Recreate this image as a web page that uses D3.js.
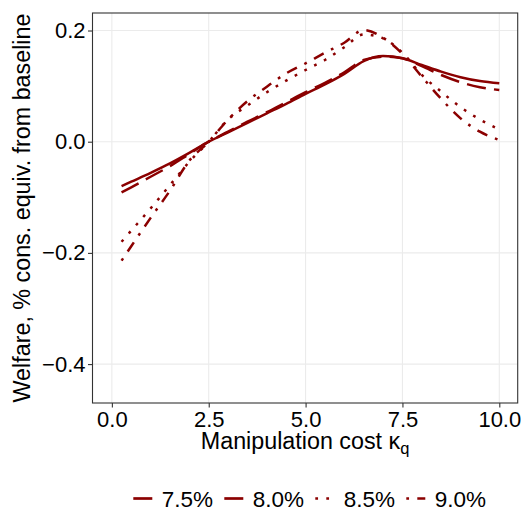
<!DOCTYPE html>
<html>
<head>
<meta charset="utf-8">
<script src="https://cdn.jsdelivr.net/npm/d3@7"></script>
<style>
  html, body { margin: 0; padding: 0; background: #fff; }
  svg { display: block; font-family: "Liberation Sans", Arial, sans-serif; }
</style>
</head>
<body>
<svg id="chart" width="526" height="509"></svg>
<script>
// ---- data ----
const kappa = [0.25, 0.5, 1.0, 1.5, 2.0, 2.5, 3.0, 3.5, 4.0, 4.5, 5.0, 5.5, 6.0, 6.5, 7.0, 7.5, 8.0, 8.5, 9.0, 9.5, 10.0];
const seriesNames = ["7.5%", "8.0%", "8.5%", "9.0%"];
const welfare75 = [-0.080, -0.072, -0.056, -0.039, -0.020, 0.000, 0.017, 0.034, 0.051, 0.068, 0.086, 0.103, 0.122, 0.145, 0.154, 0.150, 0.138, 0.126, 0.116, 0.109, 0.105];
const welfare80 = [-0.091, -0.082, -0.063, -0.044, -0.022, 0.000, 0.018, 0.036, 0.053, 0.071, 0.089, 0.106, 0.125, 0.147, 0.153, 0.150, 0.136, 0.120, 0.107, 0.098, 0.093];
const welfare85 = [-0.180, -0.160, -0.120, -0.078, -0.036, 0.000, 0.040, 0.065, 0.089, 0.110, 0.129, 0.147, 0.170, 0.193, 0.186, 0.160, 0.120, 0.090, 0.062, 0.040, 0.022];
const welfare90 = [-0.214, -0.188, -0.137, -0.088, -0.034, 0.000, 0.040, 0.073, 0.099, 0.123, 0.141, 0.160, 0.178, 0.201, 0.187, 0.158, 0.117, 0.077, 0.042, 0.018, 0.003];
const xTicks = [0, 2.5, 5, 7.5, 10];
const xTickLabels = ["0.0", "2.5", "5.0", "7.5", "10.0"];
const yTicks = [0.2, 0.0, -0.2, -0.4];
const yTickLabels = ["0.2", "0.0", "\u22120.2", "\u22120.4"];

// ---- styles ----
const color = "#8b0000";
const u = 2.75;
const dashes = ["none", `${7*u} ${3*u}`, `${1*u} ${3*u}`, `${1*u} ${3*u} ${4*u} ${3*u}`];
const allSeries = [welfare75, welfare80, welfare85, welfare90];

const svg = d3.select("#chart");
const panel = { left: 92.5, right: 517.7, top: 13, bottom: 403 };

const x = d3.scaleLinear().domain([-0.5, 10.475]).range([panel.left, panel.right]);
const y = d3.scaleLinear().domain([-0.47, 0.2315]).range([panel.bottom, panel.top]);

// grid
const g = svg.append("g");
g.selectAll(".vg").data(xTicks).join("line")
  .attr("x1", d => x(d)).attr("x2", d => x(d))
  .attr("y1", panel.top).attr("y2", panel.bottom)
  .attr("stroke", "#ebebeb").attr("stroke-width", 1.1);
g.selectAll(".hg").data(yTicks).join("line")
  .attr("y1", d => y(d)).attr("y2", d => y(d))
  .attr("x1", panel.left).attr("x2", panel.right)
  .attr("stroke", "#ebebeb").attr("stroke-width", 1.1);

// axes
const xAxis = d3.axisBottom(x).tickValues(xTicks).tickFormat((d, i) => xTickLabels[i]).tickSize(4.5).tickPadding(4);
const yAxis = d3.axisLeft(y).tickValues(yTicks).tickFormat((d, i) => yTickLabels[i]).tickSize(4.5).tickPadding(2.5);

const gx = svg.append("g").attr("transform", `translate(0,${panel.bottom})`).call(xAxis);
const gy = svg.append("g").attr("transform", `translate(${panel.left},0)`).call(yAxis);
[gx, gy].forEach(a => {
  a.select(".domain").remove();
  a.selectAll(".tick line").attr("stroke", "#333333").attr("stroke-width", 1.1);
  a.selectAll(".tick text").attr("fill", "#000").attr("font-size", 22)
    .attr("font-family", "'Liberation Sans', Arial, sans-serif");
});

// lines
const line = d3.line().x(d => x(d[0])).y(d => y(d[1])).curve(d3.curveMonotoneX);
allSeries.forEach((s, i) => {
  svg.append("path")
    .datum(kappa.map((k, j) => [k, s[j]]))
    .attr("d", line)
    .attr("fill", "none")
    .attr("stroke", color)
    .attr("stroke-width", 2.5)
    .attr("stroke-dasharray", dashes[i]);
});

// panel border
svg.append("rect")
  .attr("x", panel.left).attr("y", panel.top)
  .attr("width", panel.right - panel.left).attr("height", panel.bottom - panel.top)
  .attr("fill", "none").attr("stroke", "#333333").attr("stroke-width", 1.1);

// axis titles
const xt = svg.append("text")
  .attr("x", (panel.left + panel.right) / 2).attr("y", 448.5)
  .attr("text-anchor", "middle").attr("font-size", 23.3).attr("fill", "#000");
xt.append("tspan").text("Manipulation cost \u03ba");
xt.append("tspan").attr("font-size", 16.5).attr("dy", 5).text("q");

svg.append("text")
  .attr("transform", `translate(29.5,${(panel.top + panel.bottom) / 2}) rotate(-90)`)
  .attr("text-anchor", "middle").attr("font-size", 23.3).attr("fill", "#000")
  .text("Welfare, % cons. equiv. from baseline");

// legend
const legendY = 498.5;
const leg = svg.append("g");
seriesNames.forEach((name, i) => {
  const x0 = 133.3 + i * 91;
  leg.append("line")
    .attr("x1", x0).attr("x2", x0 + 19)
    .attr("y1", legendY).attr("y2", legendY)
    .attr("stroke", color).attr("stroke-width", 2.7)
    .attr("stroke-dasharray", dashes[i]);
  leg.append("text")
    .attr("x", x0 + 28.5).attr("y", legendY + 8)
    .attr("font-size", 22.5).attr("fill", "#000")
    .text(name);
});
</script>
</body>
</html>
